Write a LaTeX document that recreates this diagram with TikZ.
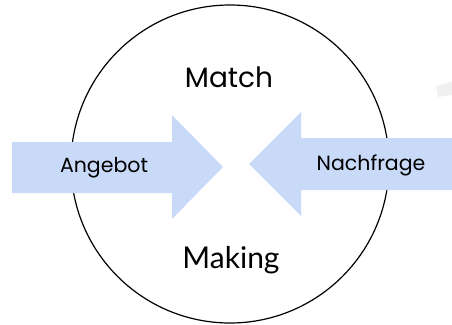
\documentclass[tikz,border=0pt]{standalone}
\usepackage{fontspec}
\setmainfont{Poppins}
\newfontfamily\latofont{Lato}
\definecolor{arrowblue}{HTML}{C9DAF8}

\begin{document}
\begin{tikzpicture}[x=1pt, y=-1pt, >=stealth]
        \useasboundingbox (0,0) rectangle (452,324);
        \coordinate (M) at (230,164);
        \draw[line width=1.2pt] (M) circle (159pt);
        % arrows from both sides towards the middle
        \fill[arrowblue] (12,142) -- (172,142) -- (172,115) -- (223,167)
            -- (172,219) -- (172,193) -- (12,193) -- cycle;
        \fill[arrowblue] (452,138) -- (301,138) -- (301,112) -- (249,164)
            -- (301,216) -- (301,190) -- (452,190) -- cycle;
        \fill[gray!12] (436,86) -- (452,82) -- (452,95) -- (438,97) -- cycle;
        \node (angebot) at (104,168) {\fontsize{20.5}{24}\selectfont Angebot};
        \node (nachfrage) at (371,165) {\fontsize{20.5}{24}\selectfont Nachfrage};
        \node (match) at (229,77) {\fontsize{28}{34}\selectfont Match};
        \node (making) at (231,260) {\fontsize{30}{34}\selectfont\latofont Making};

    \end{tikzpicture}
\end{document}
